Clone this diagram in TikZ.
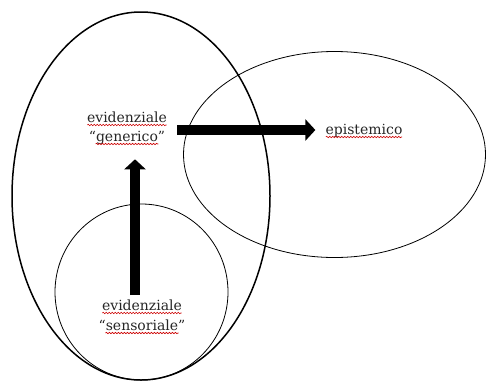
\documentclass[tikz,border=0pt]{standalone}
\usepackage{fontspec}
\setmainfont{DejaVu Serif}
\usetikzlibrary{arrows.meta,decorations.pathmorphing,calc}
\tikzset{
  lbl/.style={inner sep=0pt, font=\fontsize{14}{16}\selectfont, text=black!85},
  bigarrow/.style={line width=9.5pt, -{Triangle[length=10pt,width=21pt]}},
  squig/.style={red!80!black, line width=0.6pt, decorate, decoration={snake, segment length=3pt, amplitude=0.7pt}}
}
\newcommand{\wavy}[2]{\draw[squig] ([yshift=-3pt,xshift=#2]#1.base west) -- ([yshift=-3pt,xshift=-#2]#1.base east);}
\begin{document}
\begin{tikzpicture}[x=1pt,y=-1pt]
\useasboundingbox (0,0) rectangle (486,381);
% shapes
\draw[line width=1.5pt] (141,196) ellipse [x radius=129, y radius=184];
\draw[line width=0.8pt] (334.5,154.5) ellipse [x radius=151, y radius=103];
\draw[line width=0.8pt] (141.5,292) ellipse [x radius=86.5, y radius=88];
% texts
\node[lbl, anchor=base] (g1) at (127,122) {evidenziale};
\node[lbl, anchor=base] (g2) at (127,141) {“generico”};
\node[lbl, anchor=base] (ep) at (364,134) {epistemico};
\node[lbl, anchor=base] (s1) at (142,310) {evidenziale};
\node[lbl, anchor=base] (s2) at (142,330) {“sensoriale”};
\wavy{g1}{0.5pt}
\wavy{g2}{7pt}
\wavy{ep}{0.5pt}
\wavy{s1}{0.5pt}
\wavy{s2}{7pt}
% arrows
\draw[bigarrow] ($(g1.east |- ep.base)+(10,-4)$) -- ($(ep.base west)+(-10,-4)$);
\draw[bigarrow] ([xshift=-7pt,yshift=4pt]s1.north) -- ([xshift=8pt,yshift=-15pt]g2.south);
\end{tikzpicture}
\end{document}
